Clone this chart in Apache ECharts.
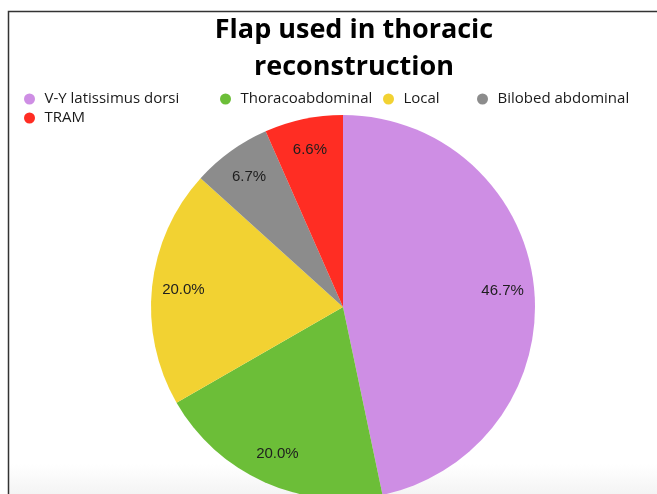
<!DOCTYPE html>
<html lang="en">
<head>
	<meta charset="UTF-8">
	<title>Flap used in thoracic reconstruction</title>
	<script src="https://cdn.jsdelivr.net/npm/echarts@6/dist/echarts.min.js"></script>
	<style>
		html, body { margin: 0; padding: 0; background: #fff; }
	</style>
</head>
<body>
	<div id="main" style="width: 657px;height:494px;"></div>
<script type="text/javascript">
	// data
	var flapNames = ['V-Y latissimus dorsi', 'Thoracoabdominal', 'Local', 'Bilobed abdominal', 'TRAM'];
	var flapShare = [46.7, 20.0, 20.0, 6.7, 6.6];
	var flapColors = ['#ce8ee4', '#6cbe38', '#f2d232', '#8c8c8c', '#ff2d23'];

	var myChart = echarts.init(document.getElementById('main'));

	var pieData = [];
	var labelData = [];
	for (var i = 0; i < flapNames.length; i++) {
		pieData.push({ name: flapNames[i], value: flapShare[i], itemStyle: { color: flapColors[i] } });
		labelData.push({ name: flapNames[i], value: flapShare[i] });
	}

	var legendText = { fontFamily: 'Open Sans', fontSize: 15, color: '#1a1a1a', lineHeight: 19 };
	function oneLegend(names, left, orient) {
		return {
			data: names,
			left: left,
			top: 89.5,
			orient: orient || 'horizontal',
			padding: 0,
			itemGap: 0,
			itemWidth: 20,
			itemHeight: 11,
			icon: 'circle',
			textStyle: legendText,
			selectedMode: false
		};
	}

	myChart.setOption({
		animation: false,
		title: {
			text: 'Flap used in thoracic\nreconstruction',
			left: 354,
			top: 12,
			textAlign: 'center',
			padding: 0,
			textStyle: {
				fontFamily: 'Open Sans',
				fontWeight: 'bold',
				fontSize: 27,
				lineHeight: 37,
				color: '#000'
			}
		},
		legend: [
			oneLegend([flapNames[0], flapNames[4]], 24, 'vertical'),
			oneLegend([flapNames[1]], 220),
			oneLegend([flapNames[2]], 383),
			oneLegend([flapNames[3]], 477)
		],
		graphic: [
			{
				type: 'rect', z: -10, silent: true,
				shape: { x: 8, y: 464, width: 649, height: 30 },
				style: {
					fill: new echarts.graphic.LinearGradient(0, 0, 0, 1, [
						{ offset: 0, color: '#ffffff' },
						{ offset: 1, color: '#f4f4f4' }
					])
				}
			},
			{
				type: 'polyline', z: 100, silent: true,
				shape: { points: [[8.5, 494], [8.5, 11.5], [657, 11.5]] },
				style: { stroke: '#333', lineWidth: 1.5, fill: null }
			}
		],
		series: [
			{
				type: 'pie',
				center: [343, 307],
				radius: [0, 192],
				clockwise: true,
				startAngle: 90,
				silent: true,
				label: { show: false },
				labelLine: { show: false },
				itemStyle: { borderWidth: 0 },
				data: pieData
			},
			{
				// transparent ring only used to place the percent labels further out
				type: 'pie',
				center: [343, 307],
				radius: [123, 192],
				clockwise: true,
				startAngle: 90,
				silent: true,
				itemStyle: { color: 'rgba(0,0,0,0)', borderWidth: 0 },
				emphasis: { disabled: true },
				label: {
					show: true,
					position: 'inside',
					formatter: function (p) { return p.value.toFixed(1) + '%'; },
					fontFamily: 'Liberation Sans',
					fontSize: 15,
					color: '#1e1e1e'
				},
				labelLine: { show: false },
				data: labelData
			}
		]
	});
</script>
</body>
</html>
